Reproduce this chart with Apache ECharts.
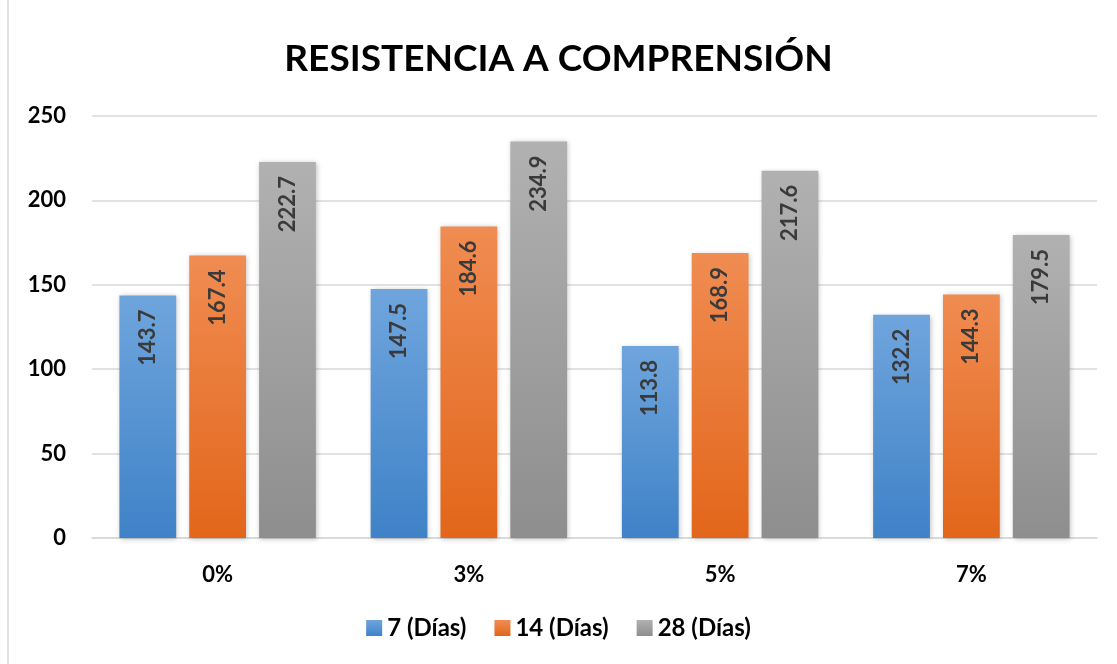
<!DOCTYPE html>
<html>
<head>
<meta charset="utf-8">
<script src="https://cdn.jsdelivr.net/npm/echarts@6/dist/echarts.min.js"></script>
<style>
  html, body { margin: 0; padding: 0; background: #fff; }
  #chart { width: 1117px; height: 664px; }
</style>
</head>
<body>
<div id="chart"></div>
<script>
  // datos
  const categorias = ['0%', '3%', '5%', '7%']
  const dias7 = [143.7, 147.5, 113.8, 132.2]
  const dias14 = [167.4, 184.6, 168.9, 144.3]
  const dias28 = [222.7, 234.9, 217.6, 179.5]
  const nombres = ['7 (Días)', '14 (Días)', '28 (Días)']

  const fuente = 'Lato, "Open Sans", sans-serif'

  function grad(top, bottom) {
    return new echarts.graphic.LinearGradient(0, 0, 0, 1, [
      { offset: 0, color: top },
      { offset: 1, color: bottom }
    ])
  }

  function serie(name, data, top, bottom) {
    return {
      name: name,
      type: 'bar',
      data: data,
      barWidth: '22.6%',
      barGap: '23%',
      itemStyle: {
        color: grad(top, bottom),
        shadowColor: 'rgba(0,0,0,0.25)',
        shadowBlur: 5,
        shadowOffsetX: 1,
        shadowOffsetY: 1
      },
      label: {
        show: true,
        position: 'insideTop',
        rotate: 90,
        align: 'right',
        verticalAlign: 'middle',
        distance: 14,
        color: '#3a3a3a',
        fontFamily: fuente,
        fontWeight: 'bold',
        fontSize: 22
      }
    }
  }

  const chart = echarts.init(document.getElementById('chart'))
  chart.setOption({
    backgroundColor: '#fff',
    animation: false,
    graphic: [{
      type: 'rect',
      shape: { x: 8, y: -2, width: 1115, height: 668 },
      style: { fill: 'none', stroke: '#d9d9d9', lineWidth: 1.5 }
    }],
    title: {
      text: 'RESISTENCIA A COMPRENSIÓN',
      left: 'center',
      top: 36,
      textStyle: {
        fontFamily: fuente,
        fontWeight: 'bold',
        fontSize: 37,
        color: '#000'
      }
    },
    legend: {
      bottom: 19,
      left: 'center',
      icon: 'rect',
      itemWidth: 16,
      itemHeight: 16,
      itemGap: 28,
      data: nombres,
      textStyle: {
        fontFamily: fuente,
        fontWeight: 'bold',
        fontSize: 24,
        color: '#000'
      }
    },
    grid: {
      left: 92,
      right: 20,
      top: 116,
      bottom: 126
    },
    xAxis: {
      type: 'category',
      data: categorias,
      axisTick: { show: false },
      axisLine: { lineStyle: { color: '#d9d9d9', width: 1.5 } },
      axisLabel: {
        margin: 26,
        fontFamily: fuente,
        fontWeight: 'bold',
        fontSize: 22,
        color: '#000'
      }
    },
    yAxis: {
      type: 'value',
      min: 0,
      max: 250,
      interval: 50,
      axisLine: { show: false },
      axisTick: { show: false },
      splitLine: { lineStyle: { color: '#d9d9d9', width: 1.5 } },
      axisLabel: {
        margin: 26,
        fontFamily: fuente,
        fontWeight: 'bold',
        fontSize: 22,
        color: '#000'
      }
    },
    series: [
      serie(nombres[0], dias7, '#6fa5dd', '#3f82c7'),
      serie(nombres[1], dias14, '#f08c52', '#e2661a'),
      serie(nombres[2], dias28, '#b1b1b1', '#8e8e8e')
    ]
  })
</script>
</body>
</html>
